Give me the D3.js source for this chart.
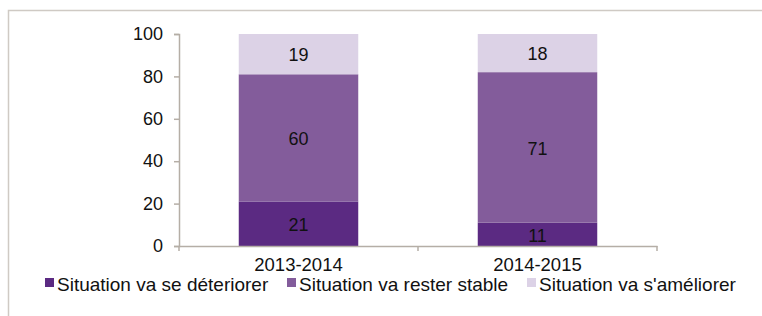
<!DOCTYPE html>
<html>
<head>
<meta charset="utf-8">
<script src="https://cdn.jsdelivr.net/npm/d3@7"></script>
<style>
  body { margin: 0; background: #fff; }
  svg { display: block; font-family: "Liberation Sans", Arial, sans-serif; }
</style>
</head>
<body>
<svg id="chart"></svg>
<script>
// data
const periods = ["2013-2014", "2014-2015"];
const seriesNames = ["Situation va se déteriorer", "Situation va rester stable", "Situation va s'améliorer"];
const deteriorer = [21, 11];
const stable = [60, 71];
const ameliorer = [19, 18];
const yTicks = [0, 20, 40, 60, 80, 100];

const colors = ["#5b2a82", "#835c9b", "#dcd2e6"];
const font = '"Liberation Sans", Arial, sans-serif';

const svg = d3.select("#chart").attr("width", 762).attr("height", 316);

// outer frame (top + left only visible)
svg.append("path")
  .attr("d", "M8.5,316 V10.5 H762")
  .attr("fill", "none")
  .attr("stroke", "#cfcac4")
  .attr("stroke-width", 1.5);

const x = d3.scaleBand().domain(periods).range([179, 657]).paddingInner(0.5).paddingOuter(0.25);
const y = d3.scaleLinear().domain([0, 100]).range([246, 34]);

const rows = periods.map((p, i) => ({
  period: p,
  deteriorer: deteriorer[i],
  stable: stable[i],
  ameliorer: ameliorer[i]
}));
const keys = ["deteriorer", "stable", "ameliorer"];
const stacked = d3.stack().keys(keys)(rows);

const layers = svg.append("g")
  .selectAll("g")
  .data(stacked)
  .enter()
  .append("g")
  .attr("fill", (d, i) => colors[i]);

layers.selectAll("rect")
  .data(d => d)
  .enter()
  .append("rect")
  .attr("x", d => x(d.data.period))
  .attr("width", x.bandwidth())
  .attr("y", d => y(d[1]))
  .attr("height", d => y(d[0]) - y(d[1]));

layers.selectAll("text")
  .data(d => d.map(v => ({ v: v, key: d.key })))
  .enter()
  .append("text")
  .attr("x", d => x(d.v.data.period) + x.bandwidth() / 2)
  .attr("y", d => (y(d.v[0]) + y(d.v[1])) / 2 + 1)
  .attr("dy", "0.35em")
  .attr("text-anchor", "middle")
  .attr("font-size", 18)
  .attr("fill", "#111")
  .text(d => d.v.data[d.key]);

// y axis
const yAxis = svg.append("g")
  .attr("transform", "translate(179,0)")
  .call(d3.axisLeft(y).tickValues(yTicks).tickSize(5).tickPadding(11));
yAxis.selectAll("path, line").attr("stroke", "#b5aea6").attr("stroke-width", 1.5);
yAxis.selectAll("text").attr("font-size", 18).attr("fill", "#111").style("font-family", font);

// x axis
const xAxis = svg.append("g")
  .attr("transform", "translate(0,246)")
  .call(d3.axisBottom(x).tickSize(0).tickPadding(12));
xAxis.select(".domain").attr("stroke", "#b5aea6").attr("stroke-width", 1.5);
xAxis.selectAll("text").attr("font-size", 18.5).attr("fill", "#111").style("font-family", font);

// category boundary ticks
const bounds = [179, 179 + x.step(), 657];
svg.append("g")
  .selectAll("line")
  .data(bounds)
  .enter()
  .append("line")
  .attr("x1", d => d).attr("x2", d => d)
  .attr("y1", 246).attr("y2", 251)
  .attr("stroke", "#b5aea6")
  .attr("stroke-width", 1.5);

// legend
const legendX = [45, 287, 527];
const legend = svg.append("g")
  .selectAll("g")
  .data(seriesNames)
  .enter()
  .append("g")
  .attr("transform", (d, i) => `translate(${legendX[i]},291)`);

legend.append("rect")
  .attr("x", 0).attr("y", -13)
  .attr("width", 9).attr("height", 9)
  .attr("fill", (d, i) => colors[i]);

legend.append("text")
  .attr("x", 12)
  .attr("font-size", 19)
  .attr("fill", "#111")
  .text(d => d);
</script>
</body>
</html>
